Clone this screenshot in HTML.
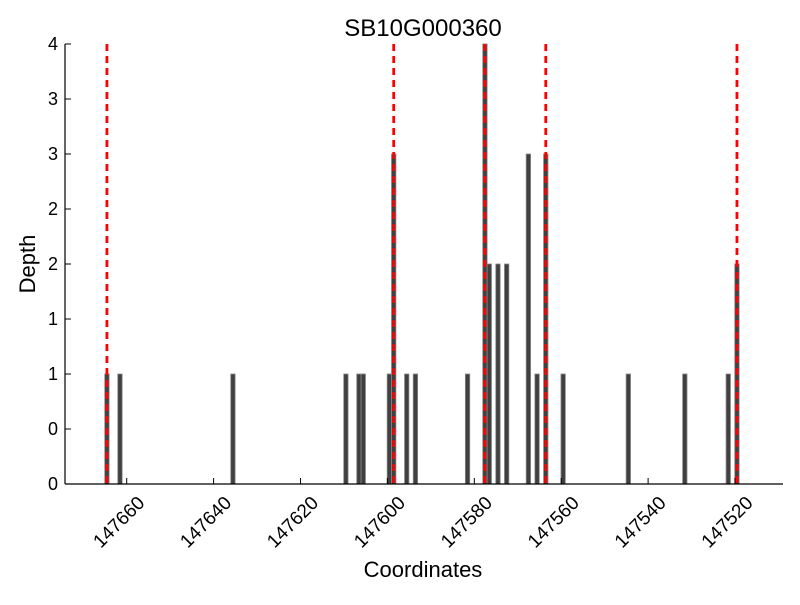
<!DOCTYPE html>
<html><head><meta charset="utf-8"><style>
body{margin:0;background:#fff}
svg text{font-family:"Liberation Sans",sans-serif;fill:#000}
</style></head><body>
<svg id="chart" width="800" height="600" viewBox="0 0 800 600" xmlns="http://www.w3.org/2000/svg">
<rect width="800" height="600" fill="#fff"/>
<text x="423" y="36" font-size="24" text-anchor="middle">SB10G000360</text>
<text transform="translate(35,264) rotate(-90)" font-size="22" text-anchor="middle">Depth</text>
<text x="423" y="577" font-size="22" text-anchor="middle">Coordinates</text>
<g id="bars"></g>
<g id="lines"></g>
<g id="axes"></g>
</svg>
<script>
const positions=[147664,147661,147635,147609,147606,147605,147599,147598,147595,147593,147581,147577,147576,147574,147572,147567,147565,147563,147559,147544,147531,147521,147519];
const depths=[1,1,1,1,1,1,1,3,1,1,1,4,2,2,2,3,1,3,1,1,1,1,2];
const markers=[147664,147598,147577,147563,147519];
const xTicks=[147660,147640,147620,147600,147580,147560,147540,147520];
const yTicks=[0,0.5,1,1.5,2,2.5,3,3.5,4];
const yTickLabels=["0","0","1","1","2","2","3","3","4"];
const NS="http://www.w3.org/2000/svg";
const L=65,R=783,T=44,B=484;
function x(v){return 126.7+(147660-v)*4.345;}
function y(v){return B-(v)*110;}
function mk(t,a,p){const e=document.createElementNS(NS,t);for(const k in a)e.setAttribute(k,a[k]);p.appendChild(e);return e;}
const gb=document.getElementById('bars'),gl=document.getElementById('lines'),ga=document.getElementById('axes');
positions.forEach((p,i)=>{
  const cx=x(p+0.55);
  const r=mk('rect',{x:cx-2.2,y:y(depths[i]),width:4.4,height:B-y(depths[i]),fill:'#404040',stroke:'#888','stroke-width':0.8},gb);
  
  
});
markers.forEach(p=>{
  const cx=x(p+0.55);
  const l=mk('line',{x1:cx,x2:cx,y1:T,y2:B,stroke:'#ff0000','stroke-width':2.8,'stroke-dasharray':'7,5'},gl);
  
  
});
const la=mk('line',{x1:L,x2:L,y1:T,y2:B,stroke:'#000','stroke-width':1.2},ga);


const lb=mk('line',{x1:L,x2:R,y1:B,y2:B,stroke:'#000','stroke-width':1.2},ga);


yTicks.forEach((v,i)=>{
  mk('line',{x1:L,x2:L+6,y1:y(v),y2:y(v),stroke:'#000','stroke-width':1},ga);
  const t=mk('text',{x:L-7,y:y(v)+6,'font-size':18,'text-anchor':'end'},ga);
  t.textContent=yTickLabels[i];
  
  
});
xTicks.forEach(v=>{
  const px=x(v);
  mk('line',{x1:px,x2:px,y1:B,y2:B-6,stroke:'#000','stroke-width':1},ga);
  const t=mk('text',{transform:'translate('+(px+19)+','+(B+20)+') rotate(-45)','font-size':19,'text-anchor':'end'},ga);
  t.textContent=String(v);
  
  
});
</script>
</body></html>
